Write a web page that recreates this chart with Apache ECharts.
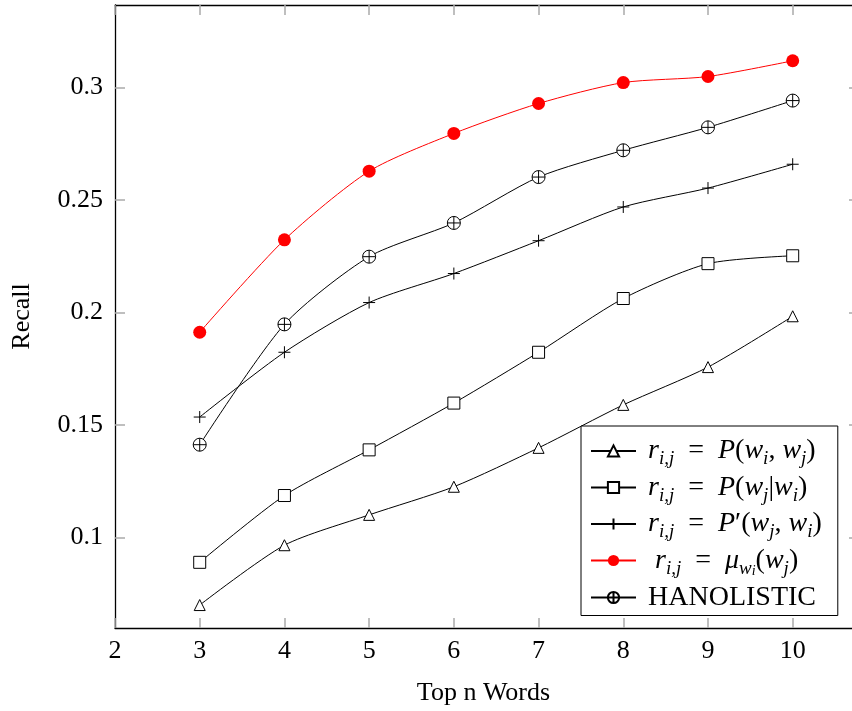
<!DOCTYPE html>
<html>
<head>
<meta charset="utf-8">
<script src="https://cdn.jsdelivr.net/npm/echarts@6/dist/echarts.min.js"></script>
<style>
  html, body { margin: 0; padding: 0; background: #fff; }
  #main { width: 852px; height: 711px; }
</style>
</head>
<body>
<div id="main"></div>
<script>
// data
var topN = [3, 4, 5, 6, 7, 8, 9, 10];
var recallJoint = [0.0699, 0.0965, 0.1100, 0.1225, 0.1398, 0.1589, 0.1757, 0.1983];
var recallCond = [0.0889, 0.1186, 0.1389, 0.1597, 0.1823, 0.2062, 0.2217, 0.2252];
var recallPrime = [0.1535, 0.1823, 0.2044, 0.2173, 0.2319, 0.2469, 0.2553, 0.2659];
var recallMu = [0.1912, 0.2323, 0.2628, 0.2796, 0.2929, 0.3022, 0.3049, 0.3119];
var recallHano = [0.1412, 0.1947, 0.2248, 0.2398, 0.2602, 0.2721, 0.2823, 0.2942];
var xTicks = [2, 3, 4, 5, 6, 7, 8, 9, 10];
var yTicks = [0.1, 0.15, 0.2, 0.25, 0.3];

var serif = '"Liberation Serif", "DejaVu Serif", serif';

// legend labels, rich text
var legendText = {
  joint: '{m| r}{s|i,j}{t|  =  }{m|P}{t|(}{m|w}{s|i}{t|, }{m|w}{s|j}{t|)}',
  cond: '{m| r}{s|i,j}{t|  =  }{m|P}{t|(}{m|w}{s|j}{t||}{m|w}{s|i}{t|)}',
  prime: '{m| r}{s|i,j}{t|  =  }{m|P}{t|\u2032(}{m|w}{s|j}{t|, }{m|w}{s|i}{t|)}',
  mu: '{m|  r}{s|i,j}{t|  =  }{m|\u03bc}{s|w}{ss|i}{t|(}{m|w}{s|j}{t|)}',
  hano: '{t| HANOLISTIC}'
};

function pairs(vals) {
  return topN.map(function (x, i) { return [x, vals[i]]; });
}

var circlePlus = 'path://M0,5A5,5,0,1,1,10,5A5,5,0,1,1,0,5ZM5,0L5,10M0,5L10,5';
var plus = 'path://M5,0L5,10M0,5L10,5';

function blackLine(name, vals, symbol, size) {
  return {
    name: name,
    type: 'line',
    data: pairs(vals),
    smooth: 0.25,
    symbol: symbol,
    symbolSize: size,
    showAllSymbol: true,
    lineStyle: { color: '#000', width: 1 },
    itemStyle: { color: '#fff', borderColor: '#000', borderWidth: 1 },
    emphasis: { disabled: true }
  };
}

var chart = echarts.init(document.getElementById('main'), null, { renderer: 'canvas' });

var tickStyle = { show: true, inside: true, length: 10, lineStyle: { color: '#aaa', width: 1.5 } };
var axisLineStyle = { show: true, lineStyle: { color: '#000', width: 1.3 } };

chart.setOption({
  animation: false,
  grid: { left: 115, top: 5, right: 0, height: 626 },
  xAxis: [{
    type: 'value', min: 2, max: 10.70, position: 'bottom',
    name: 'Top n Words', nameLocation: 'middle', nameGap: 52,
    nameTextStyle: { fontFamily: serif, fontSize: 26, color: '#000' },
    axisLine: axisLineStyle,
    axisTick: Object.assign({ customValues: xTicks }, tickStyle),
    axisLabel: { customValues: xTicks, fontFamily: serif, fontSize: 26, color: '#000', margin: 10 },
    splitLine: { show: false }
  }, {
    type: 'value', min: 2, max: 10.70, position: 'top',
    axisLine: axisLineStyle,
    axisTick: Object.assign({ customValues: xTicks }, tickStyle),
    axisLabel: { show: false },
    splitLine: { show: false }
  }],
  yAxis: [{
    type: 'value', min: 0.0597, max: 0.3367, position: 'left',
    name: 'Recall', nameLocation: 'middle', nameGap: 80,
    nameTextStyle: { fontFamily: serif, fontSize: 26, color: '#000' },
    axisLine: axisLineStyle,
    axisTick: Object.assign({ customValues: yTicks }, tickStyle),
    axisLabel: { customValues: yTicks, fontFamily: serif, fontSize: 26, color: '#000', margin: 12 },
    splitLine: { show: false }
  }, {
    type: 'value', min: 0.0597, max: 0.3367, position: 'right',
    axisLine: { show: false },
    axisTick: { show: true, inside: true, length: 3, customValues: yTicks, lineStyle: { color: '#aaa', width: 1.5 } },
    axisLabel: { show: false },
    splitLine: { show: false }
  }],
  legend: {
    orient: 'vertical',
    left: 581, top: 426,
    padding: [11, 16, 4, 9],
    itemGap: 5,
    itemWidth: 45,
    itemHeight: 14,
    backgroundColor: '#fff',
    borderColor: '#000',
    borderWidth: 1,
    formatter: function (name) { return legendText[name]; },
    textStyle: {
      color: '#000',
      rich: {
        m: { fontFamily: serif, fontStyle: 'italic', fontSize: 28, lineHeight: 34, color: '#000' },
        t: { fontFamily: serif, fontSize: 28, lineHeight: 34, color: '#000' },
        s: { fontFamily: serif, fontStyle: 'italic', fontSize: 19, padding: [16, 0, 0, 0], color: '#000' },
        ss: { fontFamily: serif, fontStyle: 'italic', fontSize: 14, padding: [22, 0, 0, 0], color: '#000' }
      }
    },
    data: ['joint', 'cond', 'prime', 'mu', 'hano']
  },
  series: [
    blackLine('joint', recallJoint, 'triangle', 11),
    blackLine('cond', recallCond, 'rect', 12),
    Object.assign(blackLine('prime', recallPrime, plus, 12), {
      itemStyle: { color: 'none', borderColor: '#000', borderWidth: 1 }
    }),
    {
      name: 'mu',
      type: 'line',
      data: pairs(recallMu),
      smooth: 0.25,
      symbol: 'circle',
      symbolSize: 13,
      lineStyle: { color: '#ff0000', width: 1 },
      itemStyle: { color: '#ff0000' },
      emphasis: { disabled: true }
    },
    blackLine('hano', recallHano, circlePlus, 13)
  ]
});
</script>
</body>
</html>
